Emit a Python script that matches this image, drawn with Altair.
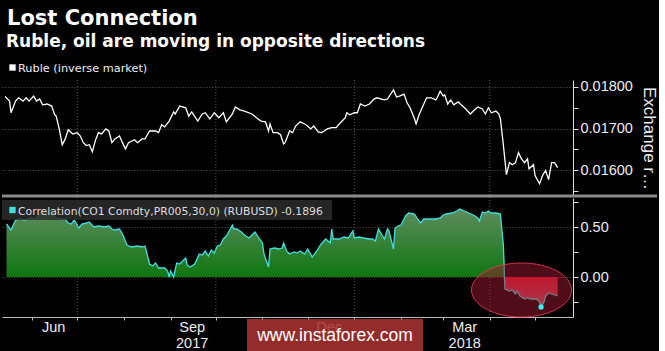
import altair as alt
import pandas as pd

START = "2017-05-12"

TITLE = "Lost Connection"
SUBTITLE = "Ruble, oil are moving in opposite directions"
RUBLE_LABEL = "Ruble (inverse market)"
CORR_LABEL = "Correlation(CO1 Comdty,PR005,30,0) (RUBUSD) -0.1896"
Y1_TITLE = "Exchange r\u2026"
WATERMARK = "www.instaforex.com"

# Ruble (inverse market), days since START and value
ruble_day = [2, 5, 6, 9, 11, 14, 16, 18, 21, 23, 25, 27, 30, 33, 35, 36, 38, 40, 42, 44,
             47, 50, 52, 54, 56, 58, 60, 62, 64, 66, 69, 71, 73, 75, 78, 80, 82, 84, 88, 90,
             93, 95, 98, 102, 104, 106, 108, 111, 114, 115, 118, 122, 124, 126, 130, 133, 135, 138, 141, 144,
             147, 149, 153, 155, 158, 161, 166, 169, 172, 175, 177, 178, 180, 183, 185, 187, 188, 191, 193, 195,
             198, 201, 203, 205, 207, 210, 212, 214, 216, 219, 222, 224, 228, 229, 231, 234, 236, 238, 241, 244,
             247, 249, 252, 254, 256, 260, 262, 264, 267, 269, 271, 274, 275, 277, 279, 282, 285, 288, 289, 291,
             293, 294, 296, 298, 300, 303, 305, 308, 311, 313, 316, 319, 321, 323, 325, 328, 330, 331, 333, 335,
             337, 339, 341, 343, 345, 347, 349, 350, 353, 354, 357, 359, 361, 363, 365, 367, 369]
ruble_val = [0.01777, 0.01766, 0.01738, 0.01766, 0.01774, 0.01766, 0.01774, 0.01766, 0.01778, 0.01766,
             0.01771, 0.01757, 0.01759, 0.01754, 0.01733, 0.01730, 0.01699, 0.01661, 0.01675, 0.01697,
             0.01687, 0.01690, 0.01682, 0.01666, 0.01659, 0.01661, 0.01644, 0.01671, 0.01690, 0.01687,
             0.01699, 0.01694, 0.01666, 0.01675, 0.01682, 0.01666, 0.01651, 0.01666, 0.01673, 0.01666,
             0.01675, 0.01675, 0.01694, 0.01694, 0.01690, 0.01709, 0.01704, 0.01718, 0.01740, 0.01735,
             0.01754, 0.01750, 0.01730, 0.01740, 0.01718, 0.01735, 0.01738, 0.01723, 0.01738, 0.01726,
             0.01738, 0.01716, 0.01735, 0.01752, 0.01745, 0.01742, 0.01735, 0.01726, 0.01718, 0.01716,
             0.01694, 0.01711, 0.01690, 0.01690, 0.01685, 0.01663, 0.01666, 0.01694, 0.01690, 0.01706,
             0.01716, 0.01711, 0.01706, 0.01699, 0.01706, 0.01692, 0.01690, 0.01694, 0.01699, 0.01702,
             0.01702, 0.01711, 0.01726, 0.01738, 0.01733, 0.01738, 0.01738, 0.01759, 0.01754, 0.01759,
             0.01771, 0.01774, 0.01771, 0.01769, 0.01771, 0.01793, 0.01776, 0.01778, 0.01783, 0.01762,
             0.01750, 0.01723, 0.01711, 0.01733, 0.01750, 0.01774, 0.01774, 0.01769, 0.01774, 0.01790,
             0.01778, 0.01781, 0.01759, 0.01769, 0.01757, 0.01764, 0.01757, 0.01747, 0.01735, 0.01742,
             0.01752, 0.01747, 0.01735, 0.01750, 0.01738, 0.01742, 0.01735, 0.01723, 0.01659, 0.01589,
             0.01618, 0.01613, 0.01618, 0.01642, 0.01627, 0.01618, 0.01627, 0.01603, 0.01613, 0.01587,
             0.01567, 0.01587, 0.01599, 0.01577, 0.01618, 0.01618, 0.01606]

# Correlation, days since START and value
corr_day = [3, 6, 9, 12, 15, 19, 22, 25, 28, 31, 33, 35, 39, 42, 44, 46, 48, 51, 53, 56,
            58, 61, 64, 68, 71, 73, 75, 78, 80, 83, 86, 90, 93, 95, 97, 98, 100, 102, 104, 108,
            110, 111, 112, 114, 116, 118, 122, 123, 125, 128, 131, 133, 135, 137, 139, 141, 143, 145, 147, 149,
            153, 154, 156, 159, 161, 164, 166, 168, 171, 173, 174, 177, 178, 181, 184, 186, 187, 189, 191, 194,
            196, 198, 201, 203, 206, 209, 212, 215, 218, 219, 220, 224, 227, 230, 233, 234, 237, 240, 244, 246,
            248, 250, 252, 254, 256, 257, 260, 261, 263, 265, 268, 270, 274, 276, 278, 280, 282, 285, 288, 291,
            293, 295, 299, 302, 304, 307, 310, 313, 316, 317, 319, 321, 323, 325, 328, 331, 333, 334, 337, 339,
            341, 342, 344, 347, 349, 351, 353, 355, 357, 358, 360, 361, 363, 365, 367, 369]
corr_val = [0.53, 0.47, 0.57, 0.58, 0.57, 0.59, 0.58, 0.63, 0.66, 0.64, 0.68, 0.60, 0.58, 0.58, 0.54, 0.53,
            0.57, 0.49, 0.53, 0.54, 0.55, 0.50, 0.51, 0.50, 0.51, 0.48, 0.47, 0.48, 0.43, 0.32, 0.30, 0.31,
            0.30, 0.31, 0.19, 0.13, 0.11, 0.14, 0.09, 0.09, 0.06, 0.00, 0.06, 0.00, 0.14, 0.13, 0.19, 0.12,
            0.10, 0.13, 0.23, 0.22, 0.26, 0.21, 0.27, 0.24, 0.31, 0.32, 0.38, 0.41, 0.52, 0.48, 0.48, 0.45,
            0.42, 0.39, 0.42, 0.45, 0.38, 0.34, 0.23, 0.10, 0.28, 0.29, 0.28, 0.29, 0.34, 0.26, 0.23, 0.25,
            0.24, 0.26, 0.23, 0.28, 0.20, 0.26, 0.33, 0.38, 0.34, 0.48, 0.38, 0.38, 0.40, 0.39, 0.46, 0.39,
            0.40, 0.39, 0.38, 0.38, 0.36, 0.48, 0.43, 0.38, 0.48, 0.46, 0.28, 0.49, 0.51, 0.52, 0.61, 0.64,
            0.63, 0.58, 0.54, 0.58, 0.58, 0.58, 0.58, 0.59, 0.62, 0.63, 0.64, 0.66, 0.68, 0.66, 0.64, 0.62,
            0.59, 0.56, 0.65, 0.64, 0.66, 0.64, 0.64, 0.63, 0.31, -0.12, -0.14, -0.13, -0.17, -0.14, -0.19, -0.22,
            -0.21, -0.22, -0.22, -0.22, -0.25, -0.30, -0.25, -0.19, -0.16, -0.17, -0.18, -0.19]

ruble_ticks = [0.0155, 0.016, 0.0165, 0.017, 0.0175, 0.018]
ruble_domain = [0.015376, 0.018168]
corr_ticks = [-0.25, 0.0, 0.25, 0.5, 0.75]
corr_domain = [-0.40, 0.79]
month_ticks = [(2017, 6), (2017, 7), (2017, 8), (2017, 9), (2017, 10), (2017, 11), (2017, 12),
               (2018, 1), (2018, 2), (2018, 3), (2018, 4), (2018, 5)]
grid_dates = ["2017-07-01", "2017-10-01", "2018-01-01", "2018-04-01"]
highlight_day, highlight_val = 345, -0.13

start = pd.Timestamp(START)
ruble_df = pd.DataFrame({"date": start + pd.to_timedelta(ruble_day, unit="D"), "value": ruble_val})
corr_df = pd.DataFrame({"date": start + pd.to_timedelta(corr_day, unit="D"), "value": corr_val})
corr_df["pos"] = corr_df["value"].clip(lower=0)
corr_df["neg"] = corr_df["value"].clip(upper=0)
corr_df["zero"] = 0.0
min_df = corr_df.loc[[corr_df["value"].idxmin()], ["date", "value"]]
hl_df = pd.DataFrame({"date": [start + pd.Timedelta(days=highlight_day)], "value": [highlight_val]})
grid_df = pd.DataFrame({"date": pd.to_datetime(grid_dates)})

FONT = "Liberation Sans"
GRID = "#5a5a5a"
W = 571            # plot width
H1 = 116           # top panel height
GAP = 2
H2 = 119           # bottom panel height
H = H1 + GAP + H2  # total plot height

x_scale = alt.Scale(domain=[alt.DateTime(year=2017, month=5, date=12),
                            alt.DateTime(year=2018, month=5, date=26, hours=5)])
ry = alt.Scale(domain=ruble_domain, nice=False, zero=False, range=[H1, 0])
cy = alt.Scale(domain=corr_domain, nice=False, zero=False, range=[H, H1 + GAP])

x_axis = alt.Axis(values=[alt.DateTime(year=y, month=m, date=1) for y, m in month_ticks],
                  labelExpr="month(datum.value)==5 ? 'Jun' : month(datum.value)==8 ? ['Sep','2017'] : "
                            "month(datum.value)==11 ? 'Dec' : month(datum.value)==2 ? ['Mar','2018'] : ''",
                  labelOffset=21, labelFont=FONT, labelFontSize=14.5, labelColor="#eeeeee",
                  labelLineHeight=16, labelOverlap=False, labelBound=False, labelFlush=False,
                  labelPadding=0, tickSize=3, tickColor="#bbbbbb", domainColor="#bbbbbb",
                  title=None, grid=False)

ruble_axis = alt.Axis(orient="right", values=ruble_ticks, title=Y1_TITLE,
                      labelExpr="round(datum.value*2000) % 2 == 0 ? format(datum.value, '.5f') : ''",
                      labelFont=FONT, labelFontSize=14.5, labelColor="#eeeeee", labelPadding=2,
                      labelOverlap=False,
                      tickSize=5, tickColor="#dddddd", domainColor="#dddddd",
                      grid=True, gridColor=GRID, gridDash=[1, 2],
                      gridOpacity={"condition": {"test": "round(datum.value*2000) % 2 == 0", "value": 1}, "value": 0},
                      titleFont=FONT, titleFontSize=17, titleFontWeight="normal", titleColor="#eeeeee",
                      titlePadding=7)
corr_axis = alt.Axis(orient="right", values=corr_ticks, title=None,
                     labelExpr="round(datum.value*4) % 2 == 0 ? format(datum.value, '.2f') : ''",
                     labelFont=FONT, labelFontSize=14.5, labelColor="#eeeeee", labelPadding=2,
                     labelOverlap=False,
                     tickSize=5, tickColor="#dddddd", domainColor="#dddddd",
                     grid=True, gridColor=GRID, gridDash=[1, 2],
                     gridOpacity={"condition": {"test": "round(datum.value*4) % 2 == 0", "value": 1}, "value": 0})

X = alt.X("date:T", scale=x_scale, axis=x_axis)

# quarterly vertical grid
vgrid = alt.Chart(grid_df).mark_rule(color=GRID, strokeDash=[1, 2], strokeWidth=1).encode(x=X)

# --- bottom panel: correlation ---
green = alt.Gradient(gradient="linear", x1=1, x2=1, y1=1, y2=0,
                     stops=[alt.GradientStop(color="#0f760f", offset=0),
                            alt.GradientStop(color="#5e8c5e", offset=1)])
red = alt.Gradient(gradient="linear", x1=1, x2=1, y1=0, y2=1,
                   stops=[alt.GradientStop(color="#e0182c", offset=0),
                          alt.GradientStop(color="#b85868", offset=1)])

cbase = alt.Chart(corr_df)
pos_area = cbase.mark_area(color=green).encode(
    x=X, y=alt.Y("pos:Q", scale=cy, axis=None), y2="zero:Q")
neg_area = cbase.mark_area(color=red).encode(
    x=X, y=alt.Y("neg:Q", scale=cy, axis=None), y2="zero:Q")
corr_line = cbase.mark_line(color="#40e0e0", strokeWidth=1.3).encode(
    x=X, y=alt.Y("value:Q", scale=cy, axis=corr_axis))

ellipse = alt.Chart(hl_df).mark_point(
    shape="M -1 0 A 1 0.54 0 1 0 1 0 A 1 0.54 0 1 0 -1 0 Z", size=10000, filled=True,
    fill="#a01830", fillOpacity=0.5, stroke="#e03a55", strokeOpacity=0.9, strokeWidth=1).encode(
    x=X, y=alt.Y("value:Q", scale=cy, axis=None))
min_dot = alt.Chart(min_df).mark_circle(size=28, color="#40f0f0", opacity=1).encode(
    x=X, y=alt.Y("value:Q", scale=cy, axis=None))

cl_df = pd.DataFrame({"t": [CORR_LABEL]})
cl_box = alt.Chart(cl_df).mark_rect(color="#2c2c2c", opacity=0.85).encode(
    x=alt.value(0), x2=alt.value(330), y=alt.value(H1 + GAP + 2), y2=alt.value(H1 + GAP + 22))
cl_sq = alt.Chart(cl_df).mark_square(size=40, color="#40e0e0", opacity=1).encode(
    x=alt.value(10.5), y=alt.value(H1 + GAP + 12))
cl_txt = alt.Chart(cl_df).mark_text(align="left", baseline="alphabetic", font="DejaVu Sans",
                                    fontSize=10.8, color="#dddddd").encode(
    text="t:N", x=alt.value(16), y=alt.value(H1 + GAP + 17))

# --- top panel: ruble ---
ruble_line = alt.Chart(ruble_df).mark_line(color="#ffffff", strokeWidth=1.3).encode(
    x=X,
    y=alt.Y("value:Q", scale=ry, axis=ruble_axis),
)

title_df = pd.DataFrame({"t": [TITLE]})
sub_df = pd.DataFrame({"t": [SUBTITLE]})
rl_df = pd.DataFrame({"t": [RUBLE_LABEL]})

title_txt = alt.Chart(title_df).mark_text(align="left", baseline="alphabetic", font="DejaVu Sans",
                                          fontWeight="bold", fontSize=21, color="#ffffff").encode(
    text="t:N", x=alt.value(5), y=alt.value(-55))
sub_txt = alt.Chart(sub_df).mark_text(align="left", baseline="alphabetic", font="DejaVu Sans",
                                      fontWeight="bold", fontSize=17, color="#ffffff").encode(
    text="t:N", x=alt.value(4), y=alt.value(-33))
rl_sq = alt.Chart(rl_df).mark_square(size=40, color="#ffffff", opacity=1).encode(
    x=alt.value(10.5), y=alt.value(-12.5))
rl_txt = alt.Chart(rl_df).mark_text(align="left", baseline="alphabetic", font="DejaVu Sans",
                                    fontSize=11.3, color="#eeeeee").encode(
    text="t:N", x=alt.value(16), y=alt.value(-8))
sep = alt.Chart(rl_df).mark_rule(color="#8a8a8a", strokeWidth=3).encode(
    x=alt.value(0), x2=alt.value(655), y=alt.value(H1))

wm_df = pd.DataFrame({"t": [WATERMARK]})
wm_box = alt.Chart(wm_df).mark_rect(color="#a83232", opacity=0.88).encode(
    x=alt.value(245), x2=alt.value(421), y=alt.value(H + 2), y2=alt.value(H + 35))
wm_txt = alt.Chart(wm_df).mark_text(align="center", baseline="middle", font=FONT,
                                    fontSize=17.5, color="#ffffff").encode(
    text="t:N", x=alt.value(333), y=alt.value(H + 18.5))

chart = alt.layer(
    vgrid, pos_area, neg_area, corr_line, ellipse, min_dot, cl_box, cl_sq, cl_txt,
    ruble_line, title_txt, sub_txt, rl_sq, rl_txt, sep, wm_box, wm_txt,
).resolve_scale(y="independent").resolve_axis(y="independent").properties(
    width=W, height=H,
    padding={"left": 0, "top": 8, "right": 0, "bottom": 0},
    background="#000000",
).configure_view(strokeWidth=0)

chart.save("out.html", embed_options={"renderer": "svg", "actions": False})
